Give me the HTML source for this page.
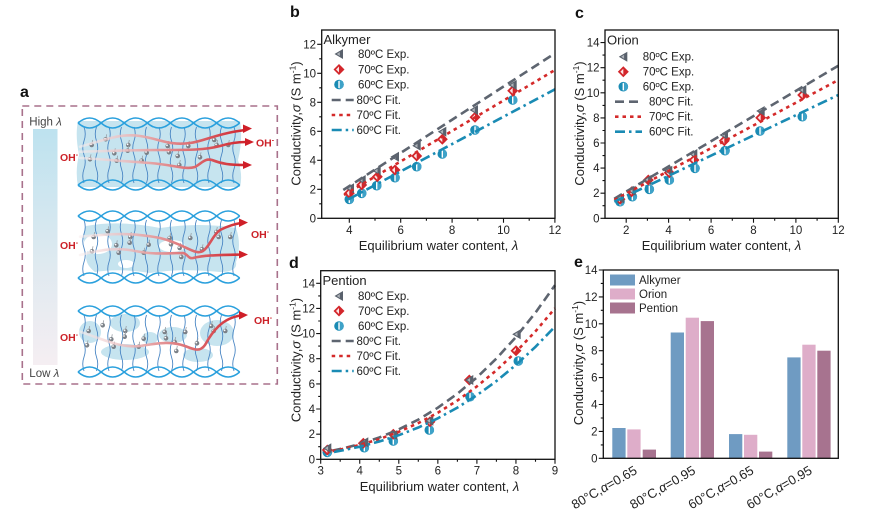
<!DOCTYPE html>
<html><head><meta charset="utf-8"><style>
html,body{margin:0;padding:0;background:#fff;}
svg{display:block;font-family:"Liberation Sans",Arial,sans-serif;}
</style></head><body>
<svg width="879" height="516" viewBox="0 0 879 516" xmlns="http://www.w3.org/2000/svg">
<defs>
<linearGradient id="lamg" x1="0" y1="0" x2="0" y2="1">
<stop offset="0" stop-color="#bde2ef"/><stop offset="0.5" stop-color="#dbe9f0"/><stop offset="1" stop-color="#f5eef2"/>
</linearGradient>
<linearGradient id="redg" gradientUnits="userSpaceOnUse" x1="80" y1="0" x2="250" y2="0">
<stop offset="0" stop-color="#f8eeee" stop-opacity="0.6"/><stop offset="0.45" stop-color="#e49a9c"/><stop offset="1" stop-color="#cf1f28"/>
</linearGradient>
<g id="tri"><polygon points="-4.5,0 4,-5 4,5" fill="#59616c"/><polygon points="-2.2,0 0.8,-2 0.8,2" fill="#aeb3b9"/></g>
<g id="dia"><polygon points="0,-5.5 5.5,0 0,5.5 -5.5,0" fill="#d3262b"/><polygon points="0,-3 -3,0 0,3" fill="#fbe3e3"/></g>
<g id="cir"><circle r="4.8" fill="#1a8bb4"/><path d="M0,-4.8 A4.8,4.8 0 0 1 0,4.8 Z" fill="#3ea2c8"/><rect x="-0.7" y="-3.6" width="1.4" height="7.2" fill="#fff"/></g>
<g id="bead"><path d="M0,0 l1,-5" stroke="#9aa0a6" stroke-width="0.8" fill="none"/><circle r="2.3" fill="#7b8188"/><circle cx="-0.7" cy="-0.7" r="0.9" fill="#fff"/></g>
<g id="chain" fill="none" stroke="#2aa0dd" stroke-width="1.5">
<path d="M78,0 q11.55,-10 23.1,0 t23.1,0 t23.1,0 t23.1,0 t23.1,0 t23.1,0 t23.1,0"/>
<path d="M78,0 q11.55,10 23.1,0 t23.1,0 t23.1,0 t23.1,0 t23.1,0 t23.1,0 t23.1,0"/>
</g>
<g id="strands" fill="none" stroke="#4a86c4" stroke-width="0.9">
<path d="M84,127 q2.5,7 0,14 t0,14 t0,14 t0,14 M96.5,127 q-2.5,7 0,14 t0,14 t0,14 t0,14 M109,127 q2.5,7 0,14 t0,14 t0,14 t0,14 M121.5,127 q-2.5,7 0,14 t0,14 t0,14 t0,14 M134,127 q2.5,7 0,14 t0,14 t0,14 t0,14 M146.5,127 q-2.5,7 0,14 t0,14 t0,14 t0,14 M159,127 q2.5,7 0,14 t0,14 t0,14 t0,14 M171.5,127 q-2.5,7 0,14 t0,14 t0,14 t0,14 M184,127 q2.5,7 0,14 t0,14 t0,14 t0,14 M196.5,127 q-2.5,7 0,14 t0,14 t0,14 t0,14 M209,127 q2.5,7 0,14 t0,14 t0,14 t0,14 M221.5,127 q-2.5,7 0,14 t0,14 t0,14 t0,14 M234,127 q2.5,7 0,14 t0,14 t0,14 t0,14"/>
</g>
<g id="beads">
<use href="#bead" x="91.7" y="145"/><use href="#bead" x="105.7" y="139.3"/><use href="#bead" x="114.3" y="153.3"/><use href="#bead" x="116.7" y="160.7"/><use href="#bead" x="90" y="159.3"/><use href="#bead" x="128.3" y="145"/><use href="#bead" x="127.7" y="150.7"/><use href="#bead" x="146.7" y="152.7"/><use href="#bead" x="141.7" y="160.7"/><use href="#bead" x="167.7" y="146"/><use href="#bead" x="169" y="152.3"/><use href="#bead" x="177.7" y="156"/><use href="#bead" x="188.3" y="146"/><use href="#bead" x="179.3" y="165"/><use href="#bead" x="200" y="157.3"/><use href="#bead" x="216.7" y="145"/><use href="#bead" x="228.3" y="145"/><use href="#bead" x="214.3" y="140"/>
</g>
</defs>

<!-- ===== Panel a ===== -->
<text x="20" y="97" font-size="16" font-weight="bold" fill="#111">a</text>
<rect x="22.3" y="106" width="255" height="278" fill="none" stroke="#a8718b" stroke-width="1.6" stroke-dasharray="7 5"/>
<rect x="33" y="129" width="24.5" height="236" fill="url(#lamg)"/>
<text x="29.3" y="125.5" font-size="11.5" fill="#444">High <tspan font-style="italic">λ</tspan></text>
<text x="29.3" y="377" font-size="11.5" fill="#444">Low <tspan font-style="italic">λ</tspan></text>

<!-- membrane 1 -->
<path d="M78,121 L240,121 Q243,140 238,160 Q243,175 240,187 L78,187 Q75,170 79,155 Q75,135 78,121 Z" fill="#c6e4ef"/>
<!-- membrane 2 blobs -->
<path d="M86,226 Q120,220 160,228 Q200,222 236,228 Q242,245 236,262 Q238,272 220,272 Q180,268 150,273 Q120,268 95,272 Q82,262 88,250 Q80,238 86,226 Z" fill="#c6e4ef"/>
<ellipse cx="98" cy="244" rx="14" ry="10" fill="#fff"/>
<ellipse cx="172" cy="246" rx="13" ry="6" fill="#fff"/>
<ellipse cx="126" cy="264" rx="8" ry="4" fill="#fff"/>
<!-- membrane 3 blobs -->
<ellipse cx="90" cy="332" rx="11" ry="11" fill="#c6e4ef"/>
<ellipse cx="125" cy="323" rx="15" ry="9" fill="#c6e4ef"/>
<ellipse cx="125" cy="352" rx="24" ry="8" fill="#c6e4ef"/>
<ellipse cx="173" cy="335" rx="14" ry="8" fill="#c6e4ef"/>
<ellipse cx="217" cy="333" rx="17" ry="13" fill="#c6e4ef"/>
<ellipse cx="198" cy="355" rx="15" ry="7" fill="#c6e4ef"/>
<ellipse cx="150" cy="338" rx="8" ry="6" fill="#c6e4ef"/>

<use href="#strands"/>
<use href="#strands" transform="translate(0,93)"/>
<use href="#strands" transform="translate(0,188)"/>
<use href="#chain" transform="translate(0,123)"/>
<use href="#chain" transform="translate(0,185)"/>
<use href="#chain" transform="translate(0,216)"/>
<use href="#chain" transform="translate(0,278)"/>
<use href="#chain" transform="translate(0,311)"/>
<use href="#chain" transform="translate(0,372)"/>
<use href="#beads"/>
<use href="#beads" transform="translate(2,92)"/>
<use href="#beads" transform="translate(-3,186)"/>

<!-- red arrows -->
<g fill="none" stroke="url(#redg)" stroke-width="2.6" stroke-linecap="round">
<path d="M80,146.7 C105,140 120,133 140,136 C160,139 170,146 190,143 C205,141 215,134 245,130"/>
<path d="M80,151.7 C110,151 130,150 160,150 C190,150 205,150 220,146 C230,143 238,142 246,142"/>
<path d="M80,158 C100,159 120,161 150,163 C175,165 185,170 195,167 C202,163 205,158 212,160 C222,164 230,165 245,165"/>
<path d="M80,236.7 C110,234 130,232 160,238 C185,244 195,256 203,251 C210,246 212,236 220,230 C228,226 234,224 241,223"/>
<path d="M80,255 C100,250 115,247 135,251 C155,255 170,253 183,253 C188,254 188,259 193,258 C205,255 220,255 241,254.5"/>
<path d="M80,331.7 C105,340 120,348 140,346 C160,343 170,341 185,346 C195,350 200,352 205,345 C212,332 222,318 241,315.5"/>
</g>
<g fill="#cf1f28">
<polygon points="252,128.5 243,124.5 243,133"/>
<polygon points="254,142 245,138 245,146"/>
<polygon points="252,165 243,161 243,169"/>
<polygon points="248,222.5 239,218.5 239,227"/>
<polygon points="248,254.5 239,250.5 239,258.5"/>
<polygon points="248,315 239,311 239,319.5"/>
</g>
<g font-size="10.5" font-weight="bold" fill="#cc2229">
<text x="60" y="161">OH<tspan font-size="7" dy="-4">-</tspan></text>
<text x="256" y="146.5">OH<tspan font-size="7" dy="-4">-</tspan></text>
<text x="60" y="249">OH<tspan font-size="7" dy="-4">-</tspan></text>
<text x="251" y="238">OH<tspan font-size="7" dy="-4">-</tspan></text>
<text x="60" y="341">OH<tspan font-size="7" dy="-4">-</tspan></text>
<text x="254" y="324">OH<tspan font-size="7" dy="-4">-</tspan></text>
</g>

<!-- ===== Panel b ===== -->
<text x="290" y="17" font-size="16" font-weight="bold" fill="#111">b</text>
<g stroke="#111" stroke-width="1.1">
<path d="M349.3,218.3v4.5M400.7,218.3v4.5M452.1,218.3v4.5M503.5,218.3v4.5M554.9,218.3v4.5M375,218.3v2.5M426.4,218.3v2.5M477.8,218.3v2.5M529.2,218.3v2.5"/>
<path d="M321.7,218.3h-4.5M321.7,189.3h-4.5M321.7,160.3h-4.5M321.7,131.3h-4.5M321.7,102.3h-4.5M321.7,73.3h-4.5M321.7,44.3h-4.5M321.7,203.8h-2.5M321.7,174.8h-2.5M321.7,145.8h-2.5M321.7,116.8h-2.5M321.7,87.8h-2.5M321.7,58.8h-2.5"/>
</g>
<g font-size="11.5" fill="#222" text-anchor="middle">
<text x="349.3" y="234">4</text><text x="400.7" y="234">6</text><text x="452.1" y="234">8</text><text x="503.5" y="234">10</text><text x="554.9" y="234">12</text>
</g>
<g font-size="11.5" fill="#222" text-anchor="end">
<text x="316" y="222.3">0</text><text x="316" y="193.3">2</text><text x="316" y="164.3">4</text><text x="316" y="135.3">6</text><text x="316" y="106.3">8</text><text x="316" y="77.3">10</text><text x="316" y="48.3">12</text>
</g>
<text transform="translate(300.5,123.5) rotate(-90)" text-anchor="middle" font-size="13" fill="#222">Conductivity,<tspan font-style="italic">σ</tspan> (S m<tspan font-size="8.5" dy="-5">-1</tspan><tspan dy="5">)</tspan></text>
<text x="438.5" y="250" text-anchor="middle" font-size="13" fill="#222">Equilibrium water content, <tspan font-style="italic">λ</tspan></text>
<g>
<use href="#cir" x="349.3" y="199.3"/><use href="#cir" x="361.7" y="193.3"/><use href="#cir" x="376.7" y="185.7"/><use href="#cir" x="395" y="177.7"/><use href="#cir" x="416.7" y="166.7"/><use href="#cir" x="442.3" y="154"/><use href="#cir" x="475" y="130"/><use href="#cir" x="512.7" y="100"/>
<use href="#dia" x="349.3" y="193.3"/><use href="#dia" x="361.7" y="185"/><use href="#dia" x="377.3" y="176.7"/><use href="#dia" x="395" y="170"/><use href="#dia" x="416.7" y="156"/><use href="#dia" x="442.3" y="139.3"/><use href="#dia" x="475" y="117.3"/><use href="#dia" x="512.7" y="90.7"/>
<use href="#tri" x="350" y="188.3"/><use href="#tri" x="361.7" y="180"/><use href="#tri" x="376.7" y="170.7"/><use href="#tri" x="395" y="156.7"/><use href="#tri" x="416.7" y="145.7"/><use href="#tri" x="442.3" y="131.7"/><use href="#tri" x="474" y="110"/><use href="#tri" x="512.7" y="85"/>
</g>
<g fill="none" stroke-width="2.6">
<path d="M343.3,190 L555,53.3" stroke="#5e6570" stroke-dasharray="9 5"/>
<path d="M344,195 L555,70" stroke="#d42a2a" stroke-dasharray="3.5 4"/>
<path d="M348.3,199.3 L555,89.3" stroke="#1a8bb4" stroke-dasharray="10 4 2.5 4"/>
</g>
<rect x="321.7" y="30" width="233.3" height="188.3" fill="none" stroke="#111" stroke-width="1.3"/>
<!-- legend b -->
<text x="323.5" y="44" font-size="13" fill="#222">Alkymer</text>
<use href="#tri" x="339" y="54"/><use href="#dia" x="339" y="69.5"/><use href="#cir" x="339" y="84.5"/>
<g fill="none" stroke-width="2.6">
<path d="M331.7,100h22" stroke="#5e6570" stroke-dasharray="9 5"/>
<path d="M331.7,115h22" stroke="#d42a2a" stroke-dasharray="3.5 4"/>
<path d="M331.7,130h22" stroke="#1a8bb4" stroke-dasharray="10 4 2.5 4"/>
</g>
<g font-size="11.5" fill="#222">
<text x="358" y="58">80ºC Exp.</text><text x="358" y="73.5">70ºC Exp.</text><text x="358" y="88.5">60ºC Exp.</text>
<text x="356.5" y="104">80ºC Fit.</text><text x="356.5" y="119">70ºC Fit.</text><text x="356.5" y="134">60ºC Fit.</text>
</g>

<!-- ===== Panel c ===== -->
<text x="575" y="18" font-size="16" font-weight="bold" fill="#111">c</text>
<g stroke="#111" stroke-width="1.1">
<path d="M626.2,218.3v4.5M668.6,218.3v4.5M711.1,218.3v4.5M753.5,218.3v4.5M795.9,218.3v4.5M838.3,218.3v4.5M647.4,218.3v2.5M689.8,218.3v2.5M732.3,218.3v2.5M774.7,218.3v2.5M817.1,218.3v2.5"/>
<path d="M605,218.3h-4.5M605,193.2h-4.5M605,168.1h-4.5M605,143h-4.5M605,117.9h-4.5M605,92.8h-4.5M605,67.7h-4.5M605,42.6h-4.5M605,205.7h-2.5M605,180.6h-2.5M605,155.6h-2.5M605,130.5h-2.5M605,105.4h-2.5M605,80.2h-2.5M605,55.1h-2.5"/>
</g>
<g font-size="11.5" fill="#222" text-anchor="middle">
<text x="626.2" y="234">2</text><text x="668.6" y="234">4</text><text x="711.1" y="234">6</text><text x="753.5" y="234">8</text><text x="795.9" y="234">10</text><text x="838.3" y="234">12</text>
</g>
<g font-size="11.5" fill="#222" text-anchor="end">
<text x="599.5" y="222.3">0</text><text x="599.5" y="197.2">2</text><text x="599.5" y="172.1">4</text><text x="599.5" y="147">6</text><text x="599.5" y="121.9">8</text><text x="599.5" y="96.8">10</text><text x="599.5" y="71.7">12</text><text x="599.5" y="46.6">14</text>
</g>
<text transform="translate(584,123.5) rotate(-90)" text-anchor="middle" font-size="13" fill="#222">Conductivity,<tspan font-style="italic">σ</tspan> (S m<tspan font-size="8.5" dy="-5">-1</tspan><tspan dy="5">)</tspan></text>
<text x="721.5" y="250" text-anchor="middle" font-size="13" fill="#222">Equilibrium water content, <tspan font-style="italic">λ</tspan></text>
<g>
<use href="#cir" x="620" y="201.7"/><use href="#cir" x="632.3" y="196.7"/><use href="#cir" x="649.3" y="189.3"/><use href="#cir" x="669.3" y="180"/><use href="#cir" x="695" y="168.3"/><use href="#cir" x="725" y="150.7"/><use href="#cir" x="760" y="131"/><use href="#cir" x="802.3" y="116.7"/>
<use href="#dia" x="620" y="199.3"/><use href="#dia" x="631.7" y="191.7"/><use href="#dia" x="648.3" y="180"/><use href="#dia" x="669.3" y="172.7"/><use href="#dia" x="694" y="160"/><use href="#dia" x="724.3" y="140.7"/><use href="#dia" x="760.7" y="117.7"/><use href="#dia" x="802.7" y="95"/>
<use href="#tri" x="620" y="198.3"/><use href="#tri" x="631.7" y="190.7"/><use href="#tri" x="647.3" y="180"/><use href="#tri" x="668.3" y="170.7"/><use href="#tri" x="693.3" y="154"/><use href="#tri" x="724" y="135"/><use href="#tri" x="760.7" y="111"/><use href="#tri" x="802.3" y="90"/>
</g>
<g fill="none" stroke-width="2.6">
<path d="M614.3,198.7 L838.3,65.7" stroke="#5e6570" stroke-dasharray="9 5"/>
<path d="M614.3,200 L838.3,80" stroke="#d42a2a" stroke-dasharray="3.5 4"/>
<path d="M614.3,201.7 L838.3,95" stroke="#1a8bb4" stroke-dasharray="10 4 2.5 4"/>
</g>
<rect x="605" y="30" width="233.3" height="188.3" fill="none" stroke="#111" stroke-width="1.3"/>
<text x="607" y="44.5" font-size="13" fill="#222">Orion</text>
<use href="#tri" x="623.3" y="56.7"/><use href="#dia" x="623.3" y="71.7"/><use href="#cir" x="623.3" y="86.7"/>
<g fill="none" stroke-width="2.6">
<path d="M615,101.7h27" stroke="#5e6570" stroke-dasharray="9 5"/>
<path d="M615,116.7h27" stroke="#d42a2a" stroke-dasharray="3.5 4"/>
<path d="M615,131.7h27" stroke="#1a8bb4" stroke-dasharray="10 4 2.5 4"/>
</g>
<g font-size="11.5" fill="#222">
<text x="642.7" y="60.7">80ºC Exp.</text><text x="642.7" y="75.7">70ºC Exp.</text><text x="642.7" y="90.7">60ºC Exp.</text>
<text x="649" y="105.7">80ºC Fit.</text><text x="649" y="120.7">70ºC Fit.</text><text x="649" y="135.7">60ºC Fit.</text>
</g>

<!-- ===== Panel d ===== -->
<text x="289" y="268" font-size="16" font-weight="bold" fill="#111">d</text>
<g stroke="#111" stroke-width="1.1">
<path d="M320.7,459.3v4.5M359.75,459.3v4.5M398.8,459.3v4.5M437.85,459.3v4.5M476.9,459.3v4.5M515.95,459.3v4.5M555,459.3v4.5M340.2,459.3v2.5M379.3,459.3v2.5M418.3,459.3v2.5M457.4,459.3v2.5M496.4,459.3v2.5M535.5,459.3v2.5"/>
<path d="M320.7,459.3h-4.5M320.7,434.2h-4.5M320.7,409h-4.5M320.7,383.9h-4.5M320.7,358.7h-4.5M320.7,333.6h-4.5M320.7,308.4h-4.5M320.7,283.3h-4.5M320.7,446.7h-2.5M320.7,421.6h-2.5M320.7,396.4h-2.5M320.7,371.3h-2.5M320.7,346.1h-2.5M320.7,321h-2.5M320.7,295.9h-2.5"/>
</g>
<g font-size="11.5" fill="#222" text-anchor="middle">
<text x="320.7" y="474.5">3</text><text x="359.75" y="474.5">4</text><text x="398.8" y="474.5">5</text><text x="437.85" y="474.5">6</text><text x="476.9" y="474.5">7</text><text x="515.95" y="474.5">8</text><text x="555" y="474.5">9</text>
</g>
<g font-size="11.5" fill="#222" text-anchor="end">
<text x="315" y="463.3">0</text><text x="315" y="438.2">2</text><text x="315" y="413">4</text><text x="315" y="387.9">6</text><text x="315" y="362.7">8</text><text x="315" y="337.6">10</text><text x="315" y="312.4">12</text><text x="315" y="287.3">14</text>
</g>
<text transform="translate(300.5,360) rotate(-90)" text-anchor="middle" font-size="13" fill="#222">Conductivity,<tspan font-style="italic">σ</tspan> (S m<tspan font-size="8.5" dy="-5">-1</tspan><tspan dy="5">)</tspan></text>
<text x="439.5" y="491" text-anchor="middle" font-size="13" fill="#222">Equilibrium water content, <tspan font-style="italic">λ</tspan></text>
<g>
<use href="#cir" x="327.3" y="452.3"/><use href="#cir" x="364.3" y="447.7"/><use href="#cir" x="393.3" y="441"/><use href="#cir" x="429.3" y="430"/><use href="#cir" x="470" y="396.7"/><use href="#cir" x="518.3" y="361"/>
<use href="#dia" x="327.3" y="450"/><use href="#dia" x="363.3" y="443.3"/><use href="#dia" x="393.3" y="434.3"/><use href="#dia" x="430" y="421.7"/><use href="#dia" x="469.3" y="380"/><use href="#dia" x="516" y="350.7"/>
<use href="#tri" x="327.3" y="448.3"/><use href="#tri" x="364.3" y="442.3"/><use href="#tri" x="393.3" y="435"/><use href="#tri" x="429.3" y="420.7"/><use href="#tri" x="469.3" y="380"/><use href="#tri" x="516.7" y="334.3"/>
</g>
<g fill="none" stroke-width="2.6">
<polyline points="332.4,450.7 344.1,448.2 359.75,444 379.3,437.5 398.8,429.4 418.3,419.6 437.85,407.7 457.4,393.7 476.9,377.4 496.4,358.5 515.95,337 535.5,312.6 555,285.2" stroke="#5e6570" stroke-dasharray="9 5"/>
<polyline points="332.4,451.1 344.1,448.7 359.75,444.9 379.3,439.1 398.8,431.8 418.3,423.1 437.85,412.7 457.4,400.5 476.9,386.4 496.4,370.3 515.95,351.9 535.5,331.3 555,308.3" stroke="#d42a2a" stroke-dasharray="3.5 4"/>
<polyline points="334,452 344.1,450 359.75,446.7 379.3,441.5 398.8,435.2 418.3,427.5 437.85,418.3 457.4,407.6 476.9,395.2 496.4,381.1 515.95,364.9 535.5,346.8 555,326.6" stroke="#1a8bb4" stroke-dasharray="10 4 2.5 4"/>
</g>
<rect x="320.7" y="270.7" width="234.3" height="188.6" fill="none" stroke="#111" stroke-width="1.3"/>
<text x="322.5" y="285" font-size="13" fill="#222">Pention</text>
<use href="#tri" x="339" y="296"/><use href="#dia" x="339" y="311"/><use href="#cir" x="339" y="326"/>
<g fill="none" stroke-width="2.6">
<path d="M331.7,341h22" stroke="#5e6570" stroke-dasharray="9 5"/>
<path d="M331.7,356h22" stroke="#d42a2a" stroke-dasharray="3.5 4"/>
<path d="M331.7,371h22" stroke="#1a8bb4" stroke-dasharray="10 4 2.5 4"/>
</g>
<g font-size="11.5" fill="#222">
<text x="358" y="300">80ºC Exp.</text><text x="358" y="315">70ºC Exp.</text><text x="358" y="330">60ºC Exp.</text>
<text x="356.5" y="345">80ºC Fit.</text><text x="356.5" y="360">70ºC Fit.</text><text x="356.5" y="375">60ºC Fit.</text>
</g>

<!-- ===== Panel e ===== -->
<text x="574" y="267" font-size="16" font-weight="bold" fill="#111">e</text>
<g fill="#6f9bc2">
<rect x="612.3" y="428" width="13.3" height="30.3"/><rect x="670.7" y="332.5" width="13.3" height="125.8"/><rect x="729" y="434.1" width="13.3" height="24.2"/><rect x="787.3" y="357.4" width="13.3" height="100.9"/>
</g>
<g fill="#deadc9">
<rect x="627.3" y="429.4" width="13.3" height="28.9"/><rect x="685.7" y="317.7" width="13.3" height="140.6"/><rect x="744" y="434.8" width="13.3" height="23.5"/><rect x="802.3" y="344.7" width="13.3" height="113.6"/>
</g>
<g fill="#a7738f">
<rect x="642.7" y="449.6" width="13.3" height="8.7"/><rect x="700.7" y="321.1" width="13.3" height="137.2"/><rect x="759" y="451.6" width="13.3" height="6.7"/><rect x="817.3" y="350.7" width="13.3" height="107.6"/>
</g>
<g stroke="#111" stroke-width="1.1">
<path d="M603.3,458.3h-4.5M603.3,431.4h-4.5M603.3,404.5h-4.5M603.3,377.6h-4.5M603.3,350.7h-4.5M603.3,323.8h-4.5M603.3,296.9h-4.5M603.3,270h-4.5M603.3,444.9h-2.5M603.3,418h-2.5M603.3,391.1h-2.5M603.3,364.2h-2.5M603.3,337.2h-2.5M603.3,310.3h-2.5M603.3,283.4h-2.5"/>
</g>
<g font-size="11.5" fill="#222" text-anchor="end">
<text x="597.5" y="462.3">0</text><text x="597.5" y="435.4">2</text><text x="597.5" y="408.5">4</text><text x="597.5" y="381.6">6</text><text x="597.5" y="354.7">8</text><text x="597.5" y="327.8">10</text><text x="597.5" y="300.9">12</text><text x="597.5" y="274">14</text>
</g>
<text transform="translate(583,363) rotate(-90)" text-anchor="middle" font-size="13" fill="#222">Conductivity,<tspan font-style="italic">σ</tspan> (S m<tspan font-size="8.5" dy="-5">-1</tspan><tspan dy="5">)</tspan></text>
<rect x="603.3" y="270" width="235" height="188.3" fill="none" stroke="#111" stroke-width="1.3"/>
<rect x="610" y="274.5" width="25" height="11" fill="#6f9bc2"/>
<rect x="610" y="288.5" width="25" height="11" fill="#deadc9"/>
<rect x="610" y="302.5" width="25" height="11" fill="#a7738f"/>
<g font-size="11.5" fill="#222">
<text x="639" y="284.2">Alkymer</text><text x="639" y="298.2">Orion</text><text x="639" y="312.2">Pention</text>
</g>
<g font-size="13" fill="#222" text-anchor="end">
<text transform="translate(638,473) rotate(-30)">80°C,<tspan font-style="italic">α</tspan>=0.65</text>
<text transform="translate(696.4,473) rotate(-30)">80°C,<tspan font-style="italic">α</tspan>=0.95</text>
<text transform="translate(754.7,473) rotate(-30)">60°C,<tspan font-style="italic">α</tspan>=0.65</text>
<text transform="translate(813,473) rotate(-30)">60°C,<tspan font-style="italic">α</tspan>=0.95</text>
</g>
</svg>
</body></html>
